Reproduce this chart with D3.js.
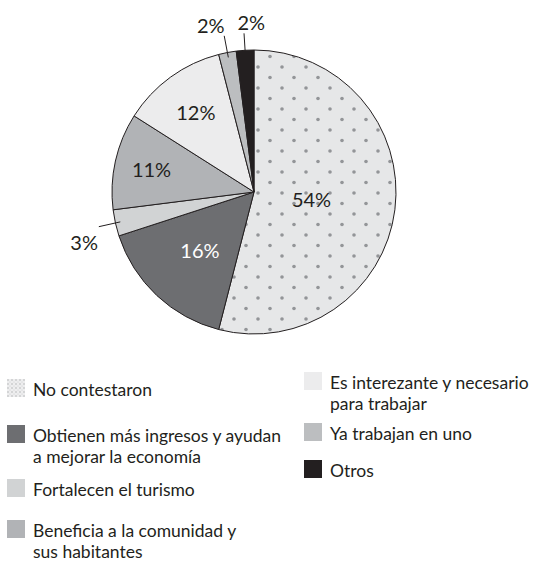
<!DOCTYPE html>
<html>
<head>
<meta charset="utf-8">
<script src="https://cdn.jsdelivr.net/npm/d3@7"></script>
<style>
  body { margin: 0; background: #fff; }
  svg text { font-family: Lato, "Open Sans", sans-serif; fill: #231f20; }
</style>
</head>
<body>
<svg id="chart"></svg>
<script>
// ============ data ============
const categories = [
  "No contestaron",
  "Obtienen más ingresos y ayudan\na mejorar la economía",
  "Fortalecen el turismo",
  "Beneficia a la comunidad y\nsus habitantes",
  "Es interezante y necesario\npara trabajar",
  "Ya trabajan en uno",
  "Otros"
];
const values = [54, 16, 3, 11, 12, 2, 2];
const colors = ["url(#dots)", "#6d6e71", "#d1d3d4", "#b1b3b6", "#ececed", "#bcbec0", "#231f20"];
const swatchColors = ["url(#dotsSmall)", "#6d6e71", "#d1d3d4", "#b1b3b6", "#ececed", "#bcbec0", "#231f20"];

// ============ layout ============
const width = 536, height = 561;
const cx = 254, cy = 192, R = 142;
// label radius for inside labels, null = outside with leader line
const labelRadius = [58, 79, null, 105, 99, null, null];
const outsideNudge = { 2: [-2, 12], 5: [-11, 2], 6: [8, 2] };
const legendPos = [
  { x: 7, y: 379 }, { x: 7, y: 425 }, { x: 7, y: 479 }, { x: 7, y: 520 },
  { x: 304, y: 372 }, { x: 304, y: 423 }, { x: 304, y: 460 }
];

const svg = d3.select("#chart").attr("width", width).attr("height", height);

// patterns for the dotted slice
const defs = svg.append("defs");
const pat = defs.append("pattern")
  .attr("id", "dots")
  .attr("patternUnits", "userSpaceOnUse")
  .attr("width", 24).attr("height", 21)
  .attr("x", -2).attr("y", -4);
pat.append("rect").attr("width", 24).attr("height", 21).attr("fill", "#e6e7e8");
pat.append("circle").attr("cx", 6).attr("cy", 5).attr("r", 1.8).attr("fill", "#939598");
pat.append("circle").attr("cx", 18).attr("cy", 15.5).attr("r", 1.8).attr("fill", "#939598");

const pat2 = defs.append("pattern")
  .attr("id", "dotsSmall")
  .attr("patternUnits", "userSpaceOnUse")
  .attr("width", 4).attr("height", 4);
pat2.append("rect").attr("width", 4).attr("height", 4).attr("fill", "#eeeeef");
pat2.append("circle").attr("cx", 1).attr("cy", 1).attr("r", 0.7).attr("fill", "#a7a9ac");
pat2.append("circle").attr("cx", 3).attr("cy", 3).attr("r", 0.5).attr("fill", "#c7c8ca");

// ============ pie ============
const pie = d3.pie().sort(null).value(d => d)(values);
const arc = d3.arc().innerRadius(0).outerRadius(R);

const g = svg.append("g").attr("transform", `translate(${cx},${cy})`);

g.selectAll("path.slice")
  .data(pie)
  .join("path")
  .attr("class", "slice")
  .attr("d", arc)
  .attr("fill", (d, i) => colors[i])
  .attr("stroke", "#231f20")
  .attr("stroke-width", 1)
  .attr("stroke-linejoin", "round");

function pointAt(d, r) {
  const a = (d.startAngle + d.endAngle) / 2;
  return [Math.sin(a) * r, -Math.cos(a) * r];
}

// inside labels
pie.forEach((d, i) => {
  if (labelRadius[i] == null) return;
  const [x, y] = pointAt(d, labelRadius[i]);
  g.append("text")
    .attr("x", x).attr("y", y)
    .attr("text-anchor", "middle")
    .attr("dominant-baseline", "central")
    .attr("font-size", 20)
    .style("fill", i === 1 ? "#ffffff" : "#231f20")
    .text(values[i] + "%");
});

// outside labels with leader lines
pie.forEach((d, i) => {
  if (labelRadius[i] != null) return;
  const p1 = pointAt(d, R - 5);
  const p2 = pointAt(d, R + 17);
  const p3 = pointAt(d, R + 30);
  const nud = outsideNudge[i] || [0, 0];
  g.append("line")
    .attr("x1", p1[0]).attr("y1", p1[1])
    .attr("x2", p2[0]).attr("y2", p2[1])
    .attr("stroke", "#231f20").attr("stroke-width", 1);
  g.append("text")
    .attr("x", p3[0] + nud[0]).attr("y", p3[1] + nud[1])
    .attr("text-anchor", "middle")
    .attr("dominant-baseline", "central")
    .attr("font-size", 20)
    .text(values[i] + "%");
});

// ============ legend ============
const legend = svg.append("g");
categories.forEach((c, i) => {
  const p = legendPos[i];
  const item = legend.append("g").attr("transform", `translate(${p.x},${p.y})`);
  item.append("rect")
    .attr("width", 18).attr("height", 18)
    .attr("fill", swatchColors[i]);
  const t = item.append("text")
    .attr("x", 26).attr("y", 17)
    .attr("font-size", 17.5);
  c.split("\n").forEach((line, j) => {
    t.append("tspan").attr("x", 26).attr("dy", j === 0 ? 0 : 21).text(line);
  });
});
</script>
</body>
</html>
